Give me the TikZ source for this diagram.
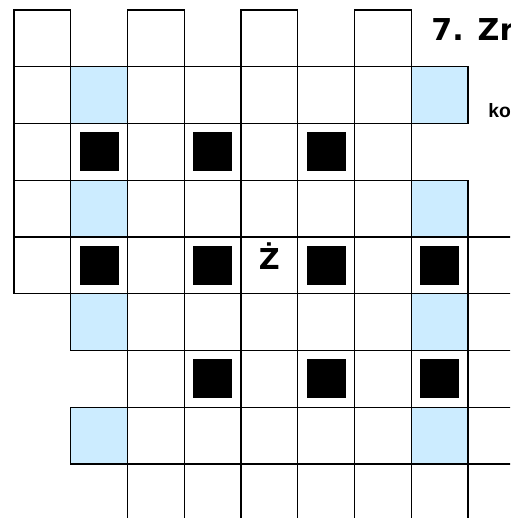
\documentclass[tikz,border=0pt]{standalone}
\usepackage{fontspec}
\setmainfont{Liberation Sans}
\newfontfamily\widefont{DejaVu Sans}
\definecolor{cellblue}{RGB}{204,236,255}

\begin{document}
\begin{tikzpicture}[x=42.56pt,y=-42.56pt,
  grid line/.style={line width=0.9pt,line cap=rect},
  blue cell/.style={fill=cellblue},
  stone/.style={fill=black}]
\useasboundingbox (-0.247,-0.176) rectangle (8.740,8.951);
\clip (-0.247,-0.176) rectangle (8.740,8.951);
% coloured cells
\foreach \c/\r in {1/1,7/1,1/3,7/3,1/5,7/5,1/7,7/7}
  \fill[blue cell] (\c,\r) rectangle ++(1,1);
% black squares
\foreach \c/\r in {1/2,3/2,5/2,1/4,3/4,5/4,7/4,3/6,5/6,7/6}
  \fill[stone] (\c+0.155,\r+0.155) rectangle ++(0.69,0.69);
% horizontal lines
\foreach \c in {0,2,4,6}
  \draw[grid line] (\c,0) -- ++(1,0);
\foreach \r in {1,2,3}
  \draw[grid line] (0,\r) -- (8,\r);
\foreach \r in {4,5}
  \draw[grid line] (0,\r) -- (9,\r);
\foreach \r in {6,7,8}
  \draw[grid line] (1,\r) -- (9,\r);
% vertical lines
\draw[grid line] (0,0) -- (0,5);
\draw[grid line] (1,0) -- (1,6) (1,7) -- (1,8);
\foreach \c in {2,...,7}
  \draw[grid line] (\c,0) -- (\c,9);
\draw[grid line] (8,1) -- (8,2) (8,3) -- (8,9);
% texts
\node[font=\widefont\bfseries\fontsize{22.6}{22.6}\selectfont,anchor=base west,inner sep=0pt] (title) at (7.348,0.529) {7. Zr};
\node[font=\bfseries\fontsize{14.5}{14.5}\selectfont,anchor=base west,inner sep=0pt] (hint) at (8.352,1.903) {ko};
\node[font=\widefont\bfseries\fontsize{21.6}{21.6}\selectfont,anchor=base,inner sep=0pt] (letter) at (4.5,4.581) {Ż};
\end{tikzpicture}
\end{document}
